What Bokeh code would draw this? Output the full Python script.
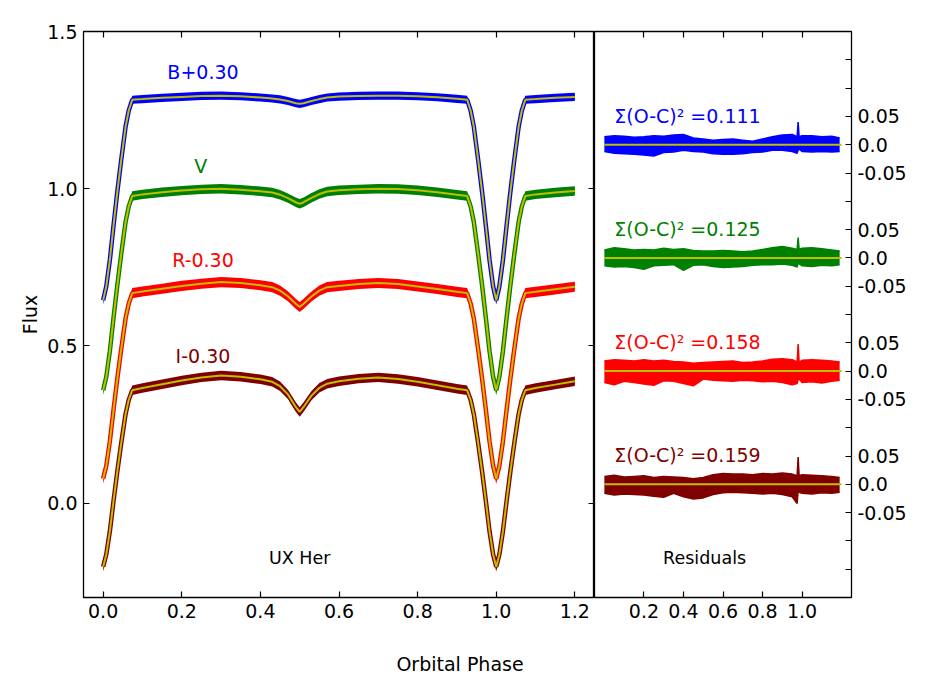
from bokeh.plotting import figure
from bokeh.models import Range1d, LinearAxis, FixedTicker, Label, ColumnDataSource, Div
from bokeh.layouts import row, column
from bokeh.core.properties import value
from bokeh.embed import file_html
from bokeh.resources import INLINE

# ---------------- data ----------------
phase = [0.0, 0.008, 0.017, 0.026, 0.036, 0.046, 0.057, 0.065, 0.074,
         0.10, 0.15, 0.20, 0.25, 0.30, 0.35, 0.40, 0.43,
         0.45, 0.47, 0.49, 0.50, 0.51, 0.53, 0.55, 0.57,
         0.60, 0.65, 0.70, 0.75, 0.80, 0.85, 0.90, 0.926,
         0.935, 0.943, 0.954, 0.964, 0.974, 0.983, 0.992, 1.0,
         1.008, 1.017, 1.026, 1.036, 1.046, 1.057, 1.065, 1.074,
         1.10, 1.15, 1.20]

flux_B = [0.645, 0.690, 0.773, 0.878, 0.990, 1.092, 1.197, 1.248, 1.283,
          1.285, 1.289, 1.292, 1.295, 1.296, 1.294, 1.290, 1.287,
          1.284, 1.279, 1.272, 1.270, 1.272, 1.279, 1.285, 1.290,
          1.293, 1.295, 1.296, 1.296, 1.294, 1.291, 1.286, 1.283,
          1.248, 1.197, 1.092, 0.990, 0.878, 0.773, 0.690, 0.645,
          0.690, 0.773, 0.878, 0.990, 1.092, 1.197, 1.248, 1.283,
          1.285, 1.289, 1.292]

flux_V = [0.359, 0.402, 0.483, 0.585, 0.693, 0.792, 0.894, 0.943, 0.977,
          0.982, 0.989, 0.994, 0.998, 1.000, 0.997, 0.992, 0.988,
          0.981, 0.970, 0.957, 0.952, 0.957, 0.971, 0.983, 0.991,
          0.995, 0.998, 1.000, 0.999, 0.995, 0.989, 0.981, 0.977,
          0.943, 0.894, 0.792, 0.693, 0.585, 0.483, 0.402, 0.359,
          0.402, 0.483, 0.585, 0.693, 0.792, 0.894, 0.943, 0.977,
          0.982, 0.988, 0.993]

flux_R = [0.078, 0.119, 0.196, 0.293, 0.396, 0.490, 0.587, 0.634, 0.668,
          0.673, 0.682, 0.691, 0.698, 0.703, 0.700, 0.693, 0.687,
          0.676, 0.658, 0.634, 0.624, 0.634, 0.657, 0.676, 0.687,
          0.691, 0.697, 0.700, 0.697, 0.689, 0.681, 0.672, 0.668,
          0.634, 0.587, 0.490, 0.396, 0.293, 0.196, 0.119, 0.078,
          0.119, 0.196, 0.293, 0.396, 0.490, 0.587, 0.634, 0.668,
          0.672, 0.680, 0.688]

flux_I = [-0.202, -0.163, -0.090, 0.003, 0.101, 0.191, 0.283, 0.328, 0.359,
          0.366, 0.378, 0.390, 0.400, 0.406, 0.402, 0.394, 0.386,
          0.372, 0.346, 0.306, 0.290, 0.306, 0.342, 0.367, 0.380,
          0.388, 0.396, 0.400, 0.395, 0.386, 0.375, 0.364, 0.359,
          0.328, 0.283, 0.191, 0.101, 0.003, -0.090, -0.163, -0.202,
          -0.163, -0.090, 0.003, 0.101, 0.191, 0.283, 0.328, 0.359,
          0.366, 0.377, 0.388]

# half width of the observed scatter band (flux units)
scatter_hw = [0.013, 0.015, 0.016, 0.015]

band_names = ["B", "V", "R", "I"]
band_labels = ["B+0.30", "V", "R-0.30", "I-0.30"]
band_colors = ["#0000ff", "#008000", "#ff0000", "#800000"]
label_phase = [0.254, 0.248, 0.254, 0.254]
label_flux = [1.370, 1.072, 0.774, 0.468]

# residuals
res_phase = [0.0, 0.05, 0.1, 0.15, 0.2, 0.25, 0.3, 0.35, 0.4, 0.45, 0.5, 0.55,
             0.6, 0.65, 0.7, 0.75, 0.8, 0.85, 0.9, 0.95, 0.975, 0.98, 0.985,
             1.0, 1.05, 1.1, 1.15, 1.19]
res_hi_B = [0.014, 0.016, 0.015, 0.013, 0.014, 0.016, 0.015, 0.017, 0.018, 0.012, 0.010, 0.008,
            0.009, 0.010, 0.008, 0.006, 0.010, 0.014, 0.017, 0.018, 0.014, 0.040, 0.014,
            0.016, 0.016, 0.014, 0.015, 0.012]
res_lo_B = [-0.012, -0.015, -0.016, -0.017, -0.018, -0.020, -0.014, -0.013, -0.010, -0.012, -0.013, -0.016,
            -0.017, -0.017, -0.016, -0.014, -0.013, -0.010, -0.010, -0.012, -0.015, -0.010, -0.008,
            -0.012, -0.013, -0.012, -0.013, -0.012]
res_hi_V = [0.014, 0.018, 0.016, 0.014, 0.015, 0.014, 0.017, 0.015, 0.016, 0.013, 0.012, 0.012,
            0.013, 0.012, 0.011, 0.012, 0.015, 0.018, 0.020, 0.017, 0.015, 0.036, 0.015,
            0.017, 0.018, 0.016, 0.014, 0.012]
res_lo_V = [-0.014, -0.016, -0.015, -0.017, -0.020, -0.014, -0.013, -0.012, -0.022, -0.013, -0.012, -0.015,
            -0.017, -0.016, -0.015, -0.013, -0.012, -0.012, -0.011, -0.013, -0.016, -0.010, -0.010,
            -0.014, -0.015, -0.013, -0.014, -0.012]
res_hi_R = [0.018, 0.020, 0.019, 0.018, 0.020, 0.018, 0.019, 0.017, 0.016, 0.014, 0.015, 0.016,
            0.017, 0.018, 0.015, 0.016, 0.018, 0.021, 0.022, 0.020, 0.016, 0.048, 0.016,
            0.019, 0.020, 0.019, 0.018, 0.016]
res_lo_R = [-0.020, -0.024, -0.018, -0.020, -0.023, -0.025, -0.017, -0.018, -0.022, -0.026, -0.014, -0.016,
            -0.017, -0.018, -0.016, -0.017, -0.019, -0.018, -0.020, -0.024, -0.022, -0.015, -0.014,
            -0.020, -0.019, -0.021, -0.018, -0.016]
res_hi_I = [0.014, 0.016, 0.013, 0.014, 0.015, 0.012, 0.014, 0.013, 0.012, 0.010, 0.012, 0.017,
            0.019, 0.018, 0.018, 0.017, 0.019, 0.018, 0.020, 0.018, 0.015, 0.048, 0.015,
            0.017, 0.016, 0.015, 0.014, 0.012]
res_lo_I = [-0.016, -0.019, -0.017, -0.018, -0.019, -0.021, -0.023, -0.016, -0.022, -0.026, -0.024, -0.018,
            -0.015, -0.014, -0.015, -0.016, -0.017, -0.016, -0.018, -0.022, -0.034, -0.012, -0.014,
            -0.016, -0.017, -0.015, -0.016, -0.014]
res_offset = [0.6, 0.4, 0.2, 0.0]
res_sum_text = ["Σ(O-C)² =0.111", "Σ(O-C)² =0.125", "Σ(O-C)² =0.158", "Σ(O-C)² =0.159"]
res_model_phase = [0.0, 1.2]

left_xticks = [0.0, 0.2, 0.4, 0.6, 0.8, 1.0, 1.2]
left_xtick_labels = ["0.0", "0.2", "0.4", "0.6", "0.8", "1.0", "1.2"]
left_yticks = [0.0, 0.5, 1.0, 1.5]
left_ytick_labels = ["0.0", "0.5", "1.0", "1.5"]
right_xticks = [0.2, 0.4, 0.6, 0.8, 1.0]
right_xtick_labels = ["0.2", "0.4", "0.6", "0.8", "1.0"]
res_tick_rel = [-0.05, 0.0, 0.05]
res_tick_text = ["-0.05", "0.0", "0.05"]

fluxes = [flux_B, flux_V, flux_R, flux_I]
res_his = [res_hi_B, res_hi_V, res_hi_R, res_hi_I]
res_los = [res_lo_B, res_lo_V, res_lo_R, res_lo_I]

MODEL = "#bfbf00"
FONT = "DejaVu Sans"
TICK_FS = "19px"
TICK_LEN = 6


def style_axis(ax, ticks, labels, extra_ticks=None):
    ax.ticker = FixedTicker(ticks=ticks, minor_ticks=extra_ticks or [])
    ax.major_label_overrides = {t: l for t, l in zip(ticks, labels)}
    ax.major_tick_in = TICK_LEN
    ax.major_tick_out = 0
    ax.major_tick_line_width = 1.2
    ax.major_tick_line_color = "black"
    ax.minor_tick_in = TICK_LEN
    ax.minor_tick_out = 0
    ax.minor_tick_line_width = 1.2
    ax.minor_tick_line_color = "black"
    ax.axis_line_color = None
    ax.major_label_text_font = FONT
    ax.major_label_text_color = "black"
    ax.major_label_text_font_size = TICK_FS
    ax.major_label_standoff = 6


def tick_only_axis(ticks):
    # an axis that only draws inward ticks (no labels)
    ax = LinearAxis(ticker=FixedTicker(ticks=[], minor_ticks=ticks))
    ax.major_tick_line_color = None
    ax.minor_tick_in = TICK_LEN
    ax.minor_tick_out = 0
    ax.minor_tick_line_width = 1.2
    ax.minor_tick_line_color = "black"
    ax.axis_line_color = None
    ax.major_label_standoff = 0
    ax.major_label_text_font_size = "1px"
    ax.major_label_text_color = None
    return ax


# ---------------- left panel ----------------
left = figure(frame_width=511, frame_height=566,
              x_range=Range1d(-0.05, 1.25), y_range=Range1d(-0.3, 1.5),
              output_backend="svg", toolbar_location=None,
              min_border_left=83, min_border_right=0, min_border_top=31, min_border_bottom=40,
              background_fill_color="white", border_fill_color="white")
left.grid.visible = False
left.outline_line_color = "black"
left.outline_line_width = 1.3

style_axis(left.xaxis[0], left_xticks, left_xtick_labels)
style_axis(left.yaxis[0], left_yticks, left_ytick_labels)
left.yaxis[0].axis_label = "Flux"
left.yaxis[0].axis_label_text_font = FONT
left.yaxis[0].axis_label_text_font_size = "19px"
left.yaxis[0].axis_label_text_font_style = "normal"
left.yaxis[0].axis_label_text_color = "black"
left.yaxis[0].axis_label_standoff = 3

left.add_layout(tick_only_axis(left_xticks), "above")
left.add_layout(tick_only_axis(left_yticks), "right")

for k in range(4):
    f = fluxes[k]
    hw = scatter_hw[k]
    c = band_colors[k]
    left.line(phase, f, line_color=c, line_width=4.5)
    left.varea(x=phase, y1=[v - hw for v in f], y2=[v + hw for v in f], fill_color=c)
for k in range(4):
    left.line(phase, fluxes[k], line_color=MODEL, line_width=2)

lab_src = ColumnDataSource(dict(x=label_phase, y=label_flux, t=band_labels, c=band_colors))
left.text(x="x", y="y", text="t", text_color="c", source=lab_src,
          text_font=value(FONT), text_font_size="19px",
          text_align="center", text_baseline="middle")

left.add_layout(Label(x=0.5, y=-0.174, text="UX Her", text_font=FONT, text_font_size="17.5px",
                      text_align="center", text_baseline="middle", text_color="black"))

# ---------------- right panel ----------------
right = figure(frame_width=257, frame_height=566,
               x_range=Range1d(-0.05, 1.25), y_range=Range1d(-0.2, 0.8),
               y_axis_location="right",
               output_backend="svg", toolbar_location=None,
               min_border_left=0, min_border_right=62, min_border_top=31, min_border_bottom=40,
               background_fill_color="white", border_fill_color="white")
right.grid.visible = False
right.outline_line_color = "black"
right.outline_line_width = 1.3

style_axis(right.xaxis[0], right_xticks, right_xtick_labels)
all_res_ticks = [round(-0.15 + 0.05 * i, 2) for i in range(19)]
res_major, res_major_labels, res_minor = [], [], []
for t in all_res_ticks:
    lab = None
    for o in res_offset:
        for rel, txt in zip(res_tick_rel, res_tick_text):
            if abs(t - (o + rel)) < 1e-6:
                lab = txt
    if lab is None:
        res_minor.append(t)
    else:
        res_major.append(t)
        res_major_labels.append(lab)
style_axis(right.yaxis[0], res_major, res_major_labels, extra_ticks=res_minor)
right.add_layout(tick_only_axis(right_xticks), "above")

for k in range(4):
    o = res_offset[k]
    right.varea(x=res_phase, y1=[o + v for v in res_los[k]], y2=[o + v for v in res_his[k]],
                fill_color=band_colors[k])
    right.line(res_phase, [o + v for v in res_his[k]], line_color=band_colors[k], line_width=1.5)
    right.line(res_phase, [o + v for v in res_los[k]], line_color=band_colors[k], line_width=1.5)
for k in range(4):
    o = res_offset[k]
    right.line(res_model_phase, [o, o], line_color=MODEL, line_width=2)

sum_src = ColumnDataSource(dict(x=[0.05] * 4, y=[o + 0.051 for o in res_offset],
                                t=res_sum_text, c=band_colors))
right.text(x="x", y="y", text="t", text_color="c", source=sum_src,
           text_font=value(FONT), text_font_size="19px",
           text_align="left", text_baseline="middle")
right.add_layout(Label(x=0.507, y=-0.131, text="Residuals", text_font=FONT, text_font_size="17.5px",
                       text_align="center", text_baseline="middle", text_color="black"))

xlabel = Div(text="Orbital Phase", width=910, height=46,
             styles={"font-family": "DejaVu Sans", "font-size": "19px", "color": "black",
                     "text-align": "center", "line-height": "22px", "padding-top": "11px",
                     "width": "910px"})

layout = column(row(left, right), xlabel)
open("out.html", "w").write(file_html(layout, INLINE))
